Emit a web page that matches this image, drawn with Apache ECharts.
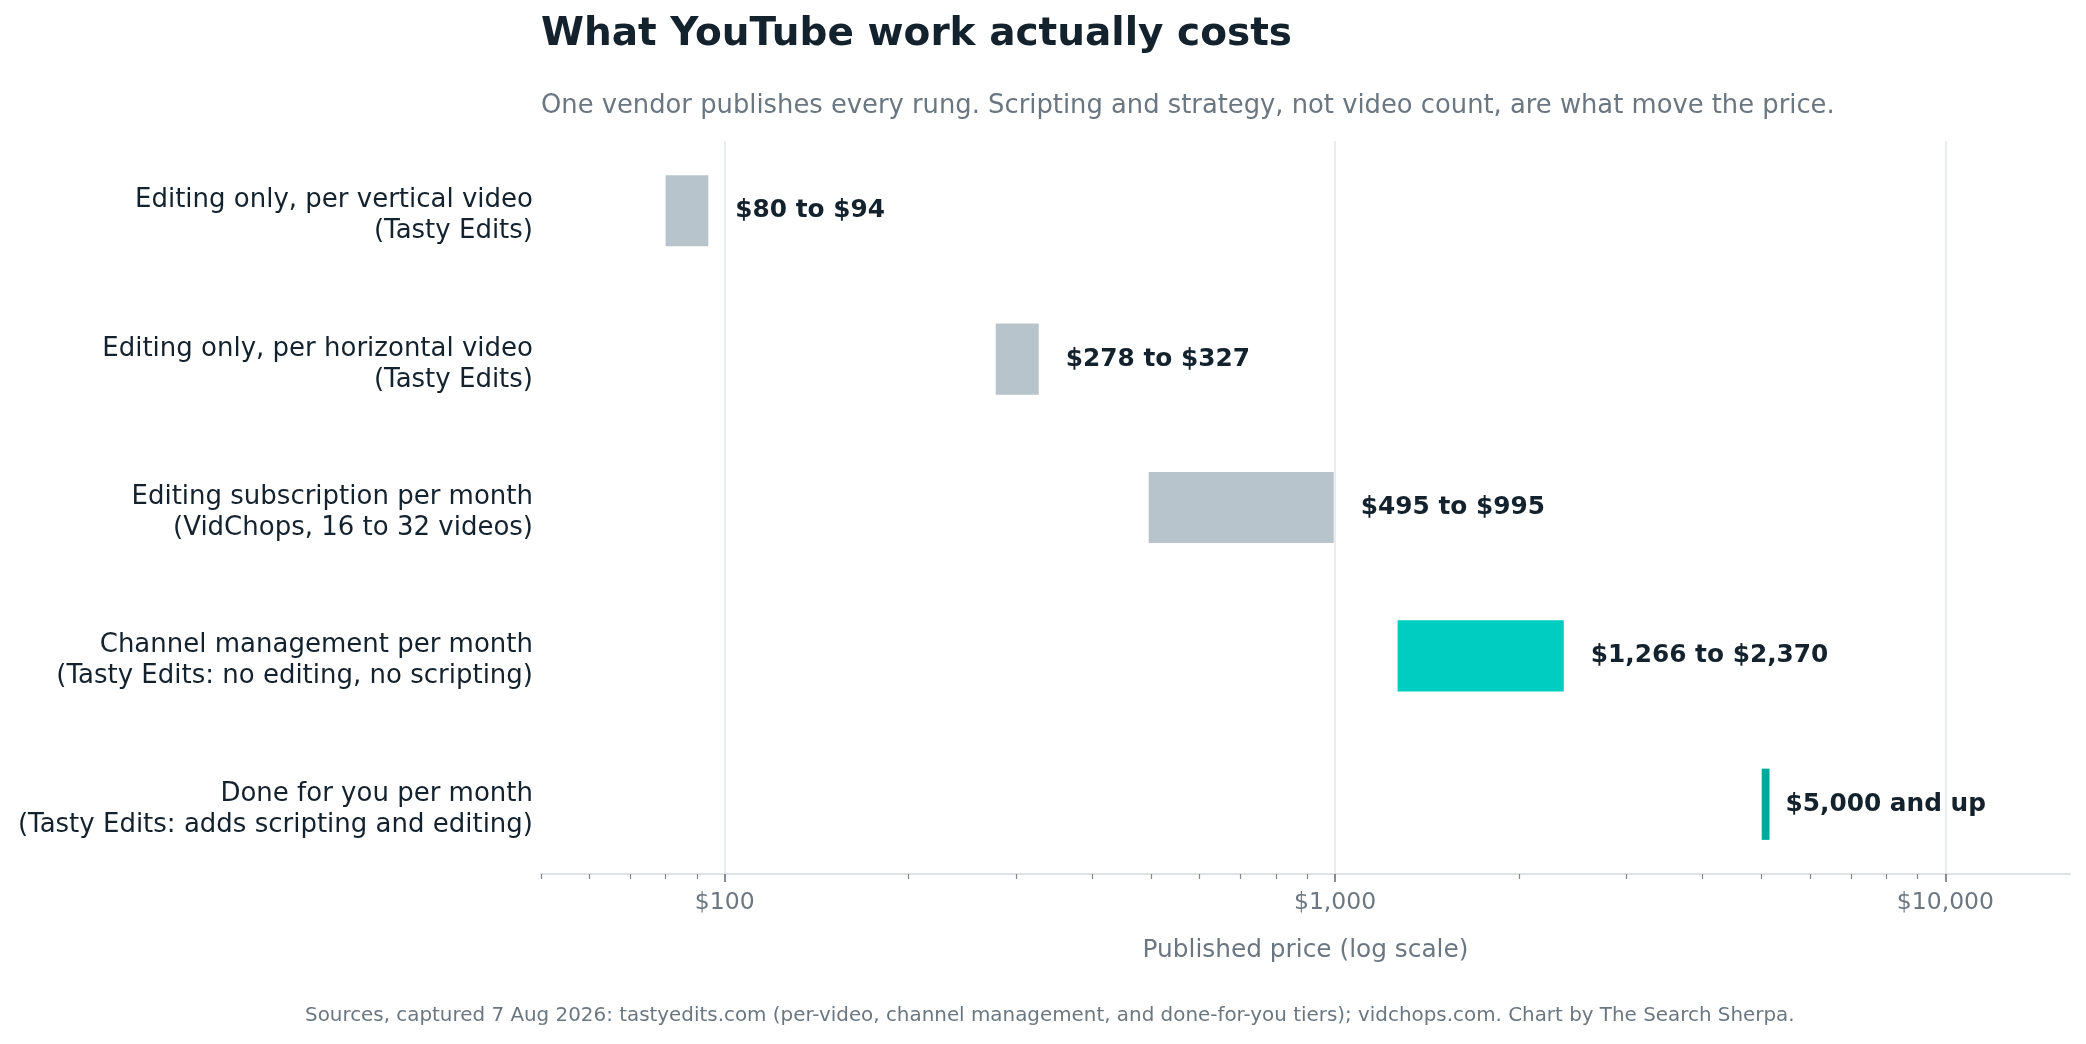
<!DOCTYPE html>
<html>

<head>
    <title>What YouTube work actually costs</title>
    <meta charset="utf-8">
    <script src="https://cdn.jsdelivr.net/npm/echarts@6/dist/echarts.min.js"></script>
    <style>
        html, body { margin: 0; padding: 0; background: #ffffff; }
    </style>
</head>

<body>
    <div id="priceLadder" style="width: 2086px;height:1044px;"></div>
    <script>
        // rows top to bottom
        var categories = [
            'Editing only, per vertical video\n(Tasty Edits)',
            'Editing only, per horizontal video\n(Tasty Edits)',
            'Editing subscription per month\n(VidChops, 16 to 32 videos)',
            'Channel management per month\n(Tasty Edits: no editing, no scripting)',
            'Done for you per month\n(Tasty Edits: adds scripting and editing)'
        ];
        var lowPrices = [80, 278, 495, 1266, 5000];
        var highPrices = [94, 327, 995, 2370, 5150];
        var rangeLabels = ['$80 to $94', '$278 to $327', '$495 to $995', '$1,266 to $2,370', '$5,000 and up'];
        var tiers = ['editing', 'editing', 'editing', 'management', 'doneForYou'];

        var majorTicks = [100, 1000, 10000];
        var minorTicks = [50, 60, 70, 80, 90, 200, 300, 400, 500, 600, 700, 800, 900,
            2000, 3000, 4000, 5000, 6000, 7000, 8000, 9000];
        var rowIndex = [0, 1, 2, 3, 4];

        var tierColors = { editing: '#b8c4cb', management: '#00cdc1', doneForYou: '#00a99d' };
        var ink = '#13222d';
        var muted = '#6b7780';
        var font = 'DejaVu Sans';

        var chartDom = document.getElementById('priceLadder');
        var myChart = echarts.init(chartDom);

        var option = {
            animation: false,
            backgroundColor: '#ffffff',
            title: [
                {
                    text: 'What YouTube work actually costs',
                    left: 541, top: 15, padding: 0,
                    textStyle: { fontFamily: font, fontSize: 39, fontWeight: 'bold', color: ink }
                },
                {
                    text: 'One vendor publishes every rung. Scripting and strategy, not video count, are what move the price.',
                    left: 541, top: 93, padding: 0,
                    textStyle: { fontFamily: font, fontSize: 25.8, fontWeight: 'normal', color: muted }
                },
                {
                    text: 'Sources, captured 7 Aug 2026: tastyedits.com (per-video, channel management, and done-for-you tiers); vidchops.com. Chart by The Search Sherpa.',
                    left: 305, top: 1006, padding: 0,
                    textStyle: { fontFamily: font, fontSize: 19.9, fontWeight: 'normal', color: muted }
                }
            ],
            grid: { left: 541, right: 16, top: 141, bottom: 170 },
            xAxis: [
                {
                    type: 'log',
                    min: 50,
                    max: 16000,
                    position: 'bottom',
                    name: 'Published price (log scale)',
                    nameLocation: 'middle',
                    nameGap: 64,
                    nameTextStyle: { fontFamily: font, fontSize: 24.8, color: muted },
                    axisLine: { show: true, onZero: false, lineStyle: { color: '#dfe3e6', width: 2 } },
                    axisTick: { show: true, customValues: majorTicks, length: 8, lineStyle: { color: '#5f6b74', width: 1.5 } },
                    axisLabel: {
                        customValues: majorTicks,
                        margin: 17,
                        fontFamily: font, fontSize: 23.5, color: muted,
                        formatter: function (v) { return '$' + Math.round(v).toLocaleString('en-US'); }
                    },
                    splitLine: { show: true, lineStyle: { color: '#e2e7ea', width: 1.5 } }
                },
                {
                    type: 'log',
                    min: 50,
                    max: 16000,
                    position: 'bottom',
                    axisLine: { show: false, onZero: false },
                    axisTick: { show: true, customValues: minorTicks, length: 5, lineStyle: { color: '#7b868e', width: 1.2 } },
                    axisLabel: { show: false },
                    splitLine: { show: false }
                }
            ],
            yAxis: {
                type: 'value',
                min: -0.47,
                max: 4.47,
                inverse: true,
                axisLine: { show: false },
                axisTick: { show: false },
                splitLine: { show: false },
                axisLabel: {
                    // nudge the two-line labels a touch below the bar centre, as in the original
                    customValues: rowIndex.map(function (i) { return i + 0.035; }),
                    margin: 8,
                    fontFamily: font, fontSize: 26, lineHeight: 31, color: ink,
                    align: 'right',
                    formatter: function (v) { return categories[Math.round(v)]; }
                }
            },
            series: [
                {
                    type: 'custom',
                    xAxisIndex: 0,
                    yAxisIndex: 0,
                    encode: { x: [0, 1], y: 2 },
                    data: rowIndex.map(function (i) { return [lowPrices[i], highPrices[i], i]; }),
                    renderItem: function (params, api) {
                        var i = params.dataIndex;
                        var start = api.coord([api.value(0), api.value(2)]);
                        var end = api.coord([api.value(1), api.value(2)]);
                        var h = api.size([0, 0.48], [api.value(0), api.value(2)])[1];
                        var gap = tiers[i] === 'doneForYou' ? 16 : 27;
                        return {
                            type: 'group',
                            children: [
                                {
                                    type: 'rect',
                                    shape: { x: start[0], y: start[1] - h / 2, width: end[0] - start[0], height: h },
                                    style: { fill: tierColors[tiers[i]] }
                                },
                                {
                                    type: 'text',
                                    x: end[0] + gap,
                                    y: end[1],
                                    style: {
                                        text: rangeLabels[i],
                                        fontFamily: font, fontSize: 24.8, fontWeight: 'bold',
                                        fill: ink, align: 'left', verticalAlign: 'middle'
                                    }
                                }
                            ]
                        };
                    }
                }
            ]
        };
        myChart.setOption(option);
    </script>
</body>

</html>
